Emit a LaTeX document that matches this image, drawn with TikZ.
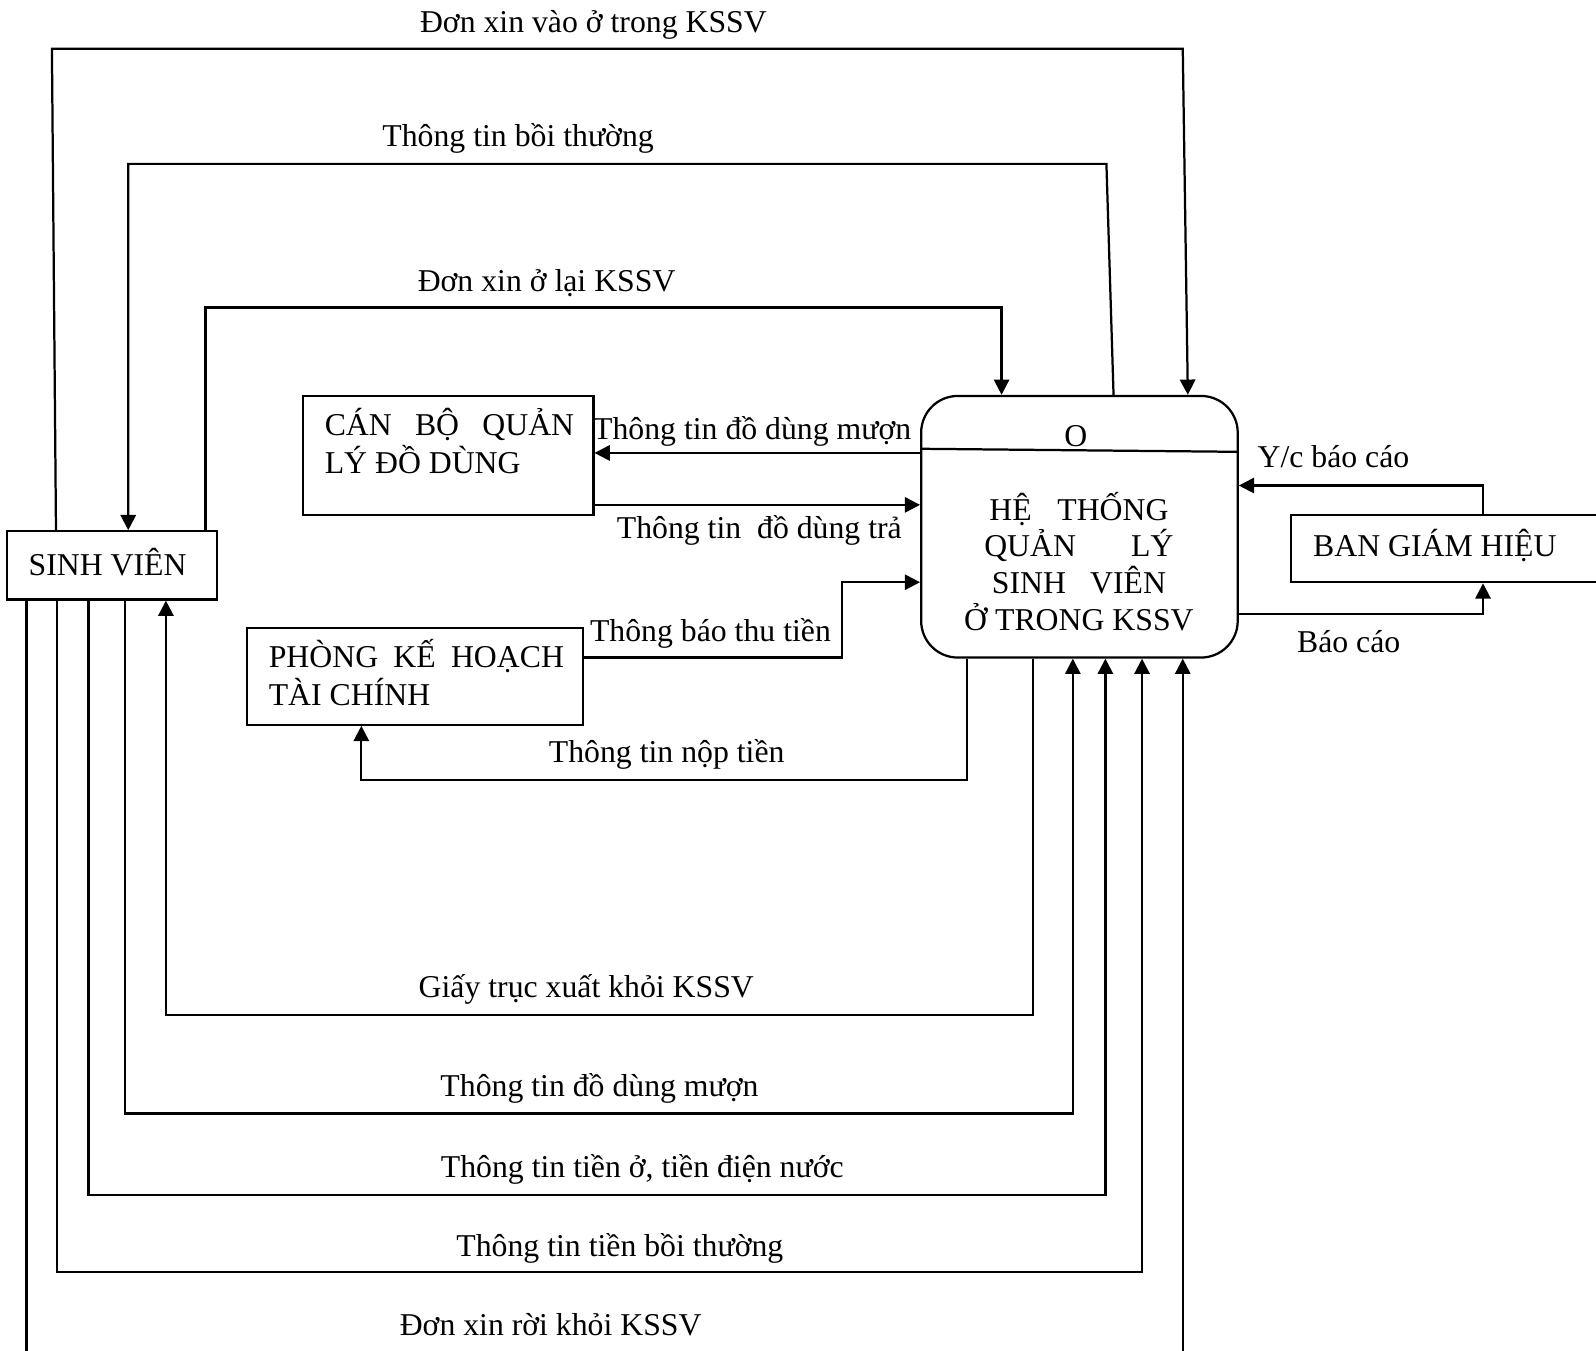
\documentclass[tikz,border=0pt]{standalone}
\usepackage{fontspec}
\setmainfont{Liberation Serif}
\usetikzlibrary{arrows.meta,calc}

\begin{document}
\begin{tikzpicture}[x=1pt,y=-1pt,
  line width=2.2pt,
  font=\fontsize{31.2}{37}\selectfont,
  box/.style={draw,rectangle,inner sep=0pt},
  flow/.style={-{Triangle[length=15pt,width=15pt]}},
  lbl/.style={anchor=base,inner sep=0pt},
  lblw/.style={anchor=base west,inner sep=0pt},
]
\useasboundingbox (0,0) rectangle (1568,1327);
\clip (0,0) rectangle (1568,1327);

% ---- entities and process ----
\node[box,minimum width=206pt,minimum height=67pt] (sv) at (110,555.5) {};
\node[lblw] (svt) at (27,565) {SINH VIÊN};

\node[box,minimum width=285pt,minimum height=117pt] (cb) at (440.5,447.5) {};
\node[lblw] (cbt1) at (318,428) {\makebox[245pt][s]{CÁN BỘ QUẢN}};
\node[lblw] (cbt2) at (318,465) {LÝ ĐỒ DÙNG};

\node[box,minimum width=330pt,minimum height=95pt] (pk) at (408,664.5) {};
\node[lblw] (pkt1) at (263,656) {\makebox[290pt][s]{PHÒNG KẾ HOẠCH}};
\node[lblw] (pkt2) at (263,693) {TÀI CHÍNH};

\node[box,minimum width=322pt,minimum height=66pt] (bgh) at (1429,539) {};
\node[lblw] (bght) at (1289,547) {BAN GIÁM HIỆU};

\node[box,rounded corners=36pt,minimum width=311pt,minimum height=257pt] (ht) at (1060.5,517.5) {};
\draw ($(ht.north west)+(0,53)$) -- ($(ht.north east)+(0,56)$);
\node[lbl] (hto) at (1057,439) {O};
\node[lbl] (ht1) at (1060,511) {\makebox[176pt][s]{HỆ THỐNG}};
\node[lbl] (ht2) at (1060,547) {\makebox[186pt][s]{QUẢN LÝ}};
\node[lbl] (ht3) at (1060,583) {\makebox[171pt][s]{SINH VIÊN}};
\node[lbl] (ht4) at (1060,619) {Ở TRONG KSSV};

% ---- data flows above ----
\draw[flow] (sv.north -| 55,0) -- (51,48) -- (1162,48) -- (ht.north -| 1167,0);
\node[lbl] (l1) at (583,32) {Đơn xin vào ở trong KSSV};

\draw[flow] (ht.north -| 1094,0) -- (1087,161) -- (126,161) -- (sv.north -| 126,0);
\node[lbl] (l2) at (509,144) {Thông tin bồi thường};

\draw[flow] (sv.north -| 202,0) -- (202,302) -- (984,302) -- (ht.north -| 984,0);
\node[lbl] (l3) at (537,286) {Đơn xin ở lại KSSV};

% ---- flows with the property officer ----
\draw[flow] (ht.west |- 0,445) -- (cb.east |- 0,445);
\node[lbl] (l4) at (739,432) {Thông tin đồ dùng mượn};
\draw[flow] (cb.east |- 0,496) -- (ht.west |- 0,496);
\node[lbl] (l5) at (746,529) {Thông tin~ đồ dùng trả};

% ---- flows with the finance office ----
\draw[flow] (pk.east |- 0,646) -- (827,646) -- (827,572) -- (ht.west |- 0,572);
\node[lbl] (l6) at (698,630) {Thông báo thu tiền};
\draw[flow] (ht.south -| 950,0) -- (950,766) -- (355,766) -- (pk.south -| 355,0);
\node[lbl] (l7) at (655,749) {Thông tin nộp tiền};

% ---- flows with the board ----
\draw[flow] (bgh.north -| 1457,0) -- (1457,477) -- (ht.east |- 0,477);
\node[lbl] (l8) at (1310,459) {Y/c báo cáo};
\draw[flow] (ht.east |- 0,603) -- (1457,603) -- (bgh.south -| 1457,0);
\node[lbl] (l9) at (1325,641) {Báo cáo};

% ---- data flows below ----
\draw[flow] (ht.south -| 1015,0) -- (1015,997) -- (163,997) -- (sv.south -| 163,0);
\node[lbl] (l10) at (576,980) {Giấy trục xuất khỏi KSSV};

\draw[flow] (sv.south -| 123,0) -- (123,1094) -- (1054,1094) -- (ht.south -| 1054,0);
\node[lbl] (l11) at (589,1077) {Thông tin đồ dùng mượn};

\draw[flow] (sv.south -| 87,0) -- (87,1174) -- (1086,1174) -- (ht.south -| 1086,0);
\node[lbl] (l12) at (631,1157) {Thông tin tiền ở, tiền điện nước};

\draw[flow] (sv.south -| 56,0) -- (56,1250) -- (1122,1250) -- (ht.south -| 1122,0);
\node[lbl] (l13) at (609,1234) {Thông tin tiền bồi thường};

\draw[flow] (sv.south -| 26,0) -- (26,1345) -- (1162,1345) -- (ht.south -| 1162,0);
\node[lbl] (l14) at (541,1312) {Đơn xin rời khỏi KSSV};
\end{tikzpicture}
\end{document}
